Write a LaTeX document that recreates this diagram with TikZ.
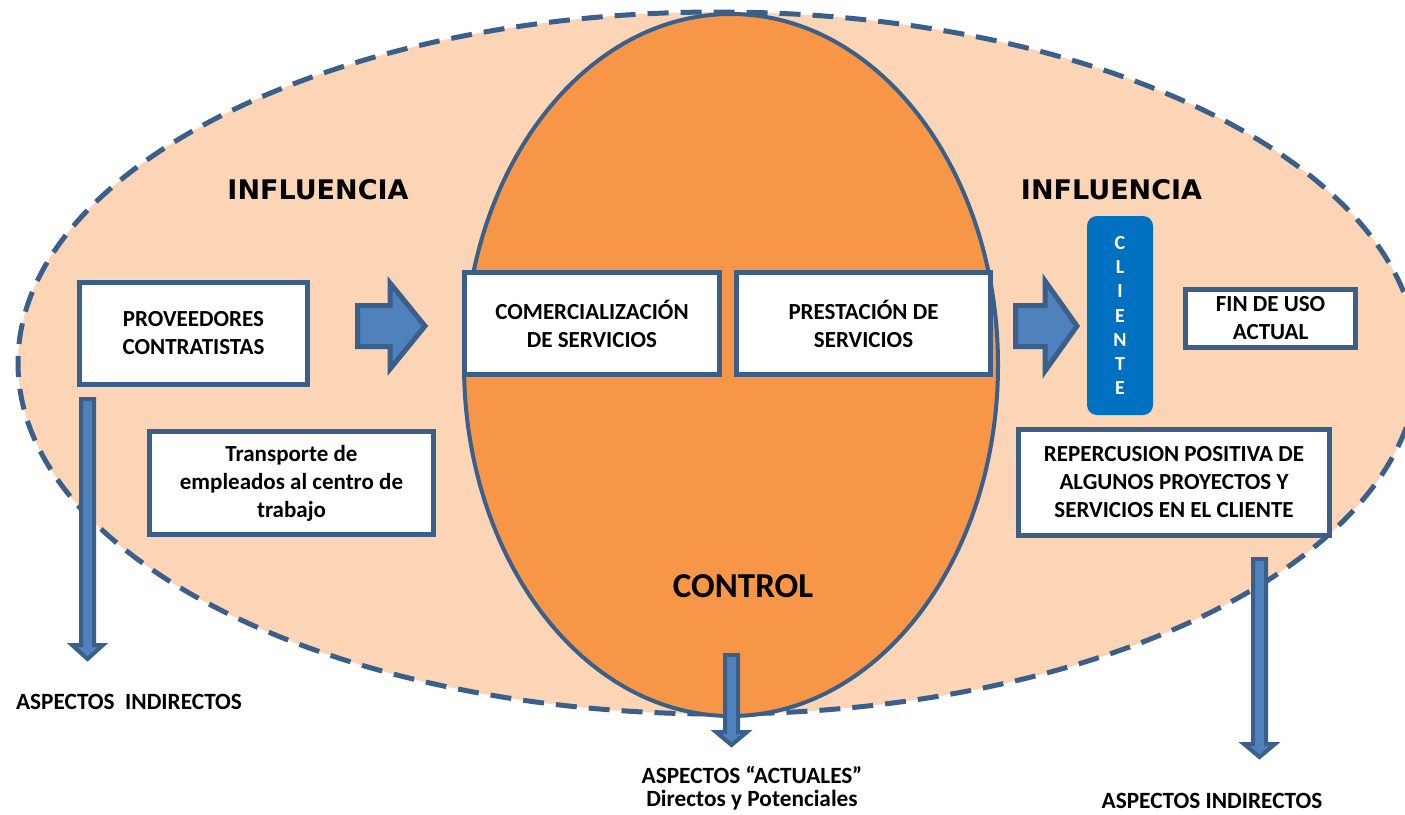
\documentclass[tikz,border=0pt]{standalone}
\usepackage{fontspec}
\setmainfont{Carlito}
\newfontfamily\inflfont{DejaVu Sans}
\definecolor{edgeblue}{HTML}{3A5F8B}
\definecolor{peach}{HTML}{FBD5B5}
\definecolor{orangefill}{HTML}{F79646}
\definecolor{arrowblue}{HTML}{4F81BD}
\definecolor{clientblue}{HTML}{0070C0}
\tikzset{
  box/.style={draw=edgeblue, line width=5pt, fill=white, align=center, inner sep=0pt,
    font=\bfseries\fontsize{23}{28}\selectfont},
  lbl/.style={font=\bfseries\fontsize{23.3}{24}\selectfont, anchor=base, inner sep=0pt},
  infl/.style={font=\inflfont\bfseries\fontsize{27}{30}\selectfont, anchor=base, inner sep=0pt},
  blockarrow/.style={draw=edgeblue, fill=arrowblue, line width=5pt, line join=miter},
  thinarrow/.style={draw=edgeblue, fill=arrowblue, line width=4pt, line join=miter},
}
\begin{document}
\begin{tikzpicture}[x=1pt,y=-1pt]
\clip (0,0) rectangle (1405,814);
\fill[white] (0,0) rectangle (1405,814);
% influence ellipse
\fill[peach] (718,363) ellipse [x radius=700, y radius=351];
\draw[edgeblue, line width=5pt, dash pattern=on 21pt off 12pt] (718,363) ellipse [x radius=700, y radius=351];
% control ellipse
\draw[edgeblue, line width=4pt, fill=orangefill] (731,365) ellipse [x radius=267, y radius=351];

% boxes
\node[box, minimum width=228pt, minimum height=102pt] (prov) at (193.5,333.5) {PROVEEDORES\\CONTRATISTAS};
\node[box, minimum width=284pt, minimum height=103pt] (transp) at (291.5,483) {Transporte de\\empleados al centro de\\trabajo};
\node[box, minimum width=255pt, minimum height=102pt] (comer) at (592,323.5) {COMERCIALIZACIÓN\\DE SERVICIOS};
\node[box, minimum width=254pt, minimum height=102pt] (prest) at (863.5,323.5) {PRESTACIÓN DE\\SERVICIOS};
\node[box, minimum width=170pt, minimum height=58pt] (fin) at (1270.5,318) {FIN DE USO\\ACTUAL};
\node[box, minimum width=311pt, minimum height=106pt] (reper) at (1174,482.5) {REPERCUSION POSITIVA DE\\ALGUNOS PROYECTOS Y\\SERVICIOS EN EL CLIENTE};
\node[fill=clientblue, rounded corners=10pt, minimum width=66pt, minimum height=199pt, inner sep=0pt,
  text=white, align=center, font=\bfseries\fontsize{20}{24.3}\selectfont] (cliente) at (1120,315.5)
  {C\\L\\I\\E\\N\\T\\E};

% block arrows right
\draw[blockarrow] (357.5,305.5) -- (390,305.5) -- (390,283) -- (425,326) -- (390,369) -- (390,346.5) -- (357.5,346.5) -- cycle;
\draw[blockarrow] (1015.5,305.5) -- (1045,305.5) -- (1045,281) -- (1077,326) -- (1045,371) -- (1045,346.5) -- (1015.5,346.5) -- cycle;

% down arrows
\draw[thinarrow] (81,399) -- (94,399) -- (94,645) -- (103,645) -- (87.5,659) -- (72,645) -- (81,645) -- cycle;
\draw[thinarrow] (725,655) -- (738,655) -- (738,732) -- (747,732) -- (731.5,745) -- (716,732) -- (725,732) -- cycle;
\draw[thinarrow] (1253,559) -- (1266,559) -- (1266,744) -- (1275,744) -- (1259.5,757) -- (1244,744) -- (1253,744) -- cycle;

% labels
\node[infl] (infl1) at (318,199) {INFLUENCIA};
\node[infl] (infl2) at (1111.5,199) {INFLUENCIA};
\node[lbl, font=\bfseries\fontsize{35}{38}\selectfont] (control) at (743,597) {CONTROL};
\node[lbl] (aspL) at (129,709) {ASPECTOS\ \ INDIRECTOS};
\node[lbl] (aspM1) at (752,783) {ASPECTOS “ACTUALES”};
\node[lbl] (aspM2) at (752,806) {Directos y Potenciales};
\node[lbl] (aspR) at (1212,808) {ASPECTOS INDIRECTOS};
\end{tikzpicture}
\end{document}
